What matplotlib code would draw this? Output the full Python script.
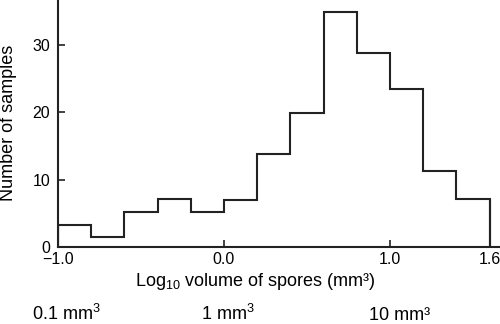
import matplotlib
matplotlib.use("Agg")
import matplotlib.pyplot as plt
import numpy as np

bin_edges = [-1.0, -0.8, -0.6, -0.4, -0.2, 0.0, 0.2, 0.4, 0.6, 0.8, 1.0, 1.2, 1.4, 1.6]
counts = [3.2, 1.4, 5.2, 7.1, 5.1, 7.0, 13.8, 19.9, 34.9, 28.9, 23.5, 11.3, 7.1]
x_ticks = [-1.0, 0.0, 1.0, 1.6]
x_tick_labels = ["\u22121.0", "0.0", "1.0", "1.6"]
y_ticks = [0, 10, 20, 30]
volume_labels = ["0.1 mm$^3$", "1 mm$^3$", "10 mm\u00b3"]
volume_label_x = [66, 228, 400]  # pixel centres

plt.rcParams['font.family'] = ['Liberation Sans', 'DejaVu Sans']
plt.rcParams['mathtext.fontset'] = 'custom'
plt.rcParams['mathtext.rm'] = 'Liberation Sans'
plt.rcParams['mathtext.it'] = 'Liberation Sans:italic'

W, H = 500, 324
fig = plt.figure(figsize=(W/100, H/100), dpi=100)
ax = fig.add_axes([58/W, 1 - 246.7/H, 1 - 58/W, 246.7/H])

ax.stairs(counts, bin_edges, baseline=0, color='#222222', lw=1.5)
ax.vlines([bin_edges[0], bin_edges[-1]], 0, [counts[0], counts[-1]], color='#222222', lw=1.5)

ax.set_xlim(-1.0, 1.663)
ax.set_ylim(0, 36.75)
for s in ['top', 'right']:
    ax.spines[s].set_visible(False)
for s in ['left', 'bottom']:
    ax.spines[s].set_linewidth(1.5)
    ax.spines[s].set_color('#222222')

ax.set_xticks(x_ticks)
ax.set_xticklabels(x_tick_labels)
ax.set_yticks(y_ticks)
ax.tick_params(direction='in', length=5, width=1.2, labelsize=11.5, color='#222222')
ax.tick_params(axis='y', pad=5.5)
ax.tick_params(axis='x', pad=4)

fig.text(9/W, 1 - 122.5/H, "Number of samples", fontsize=13, rotation=90,
         ha='center', va='center')
fig.text(255/W, 1 - 281/H, "Log$_{10}$ volume of spores (mm\u00b3)", fontsize=13,
         ha='center', va='center')
for lab, px in zip(volume_labels, volume_label_x):
    fig.text(px/W, 1 - 320/H, lab, fontsize=13, ha='center', va='baseline')

fig.savefig("out.png", dpi=100)
